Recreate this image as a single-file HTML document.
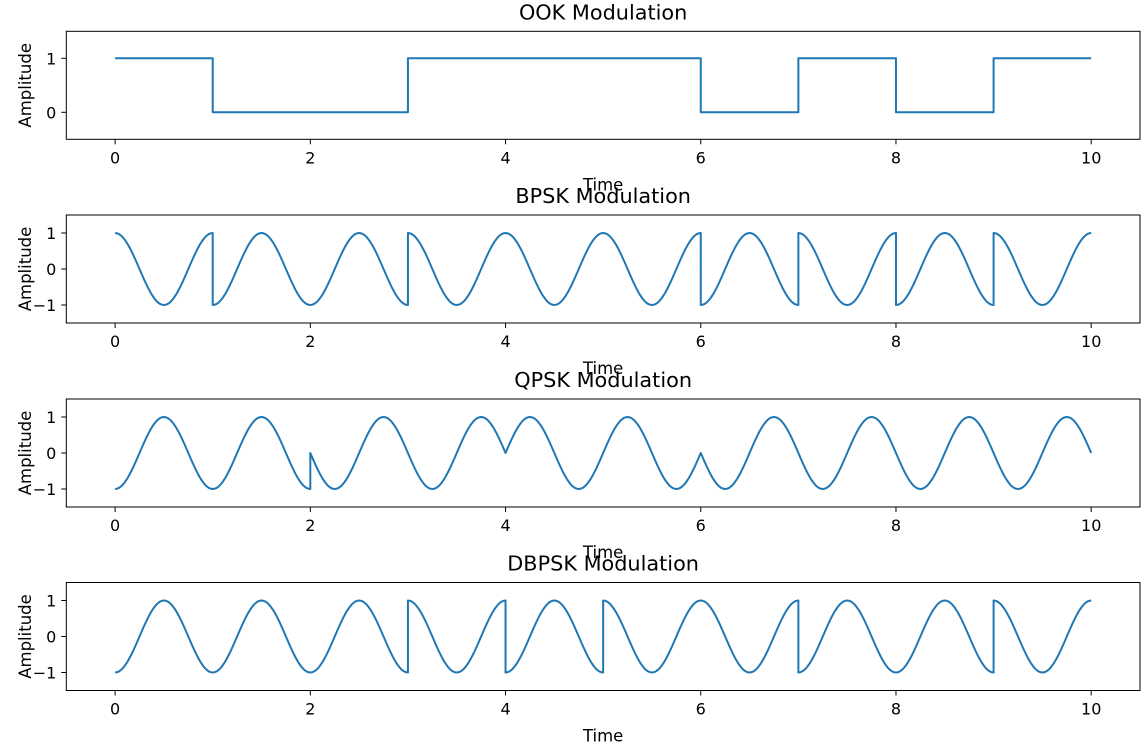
<!DOCTYPE html>
<html><head><meta charset="utf-8"><style>
html,body{margin:0;padding:0;background:#fff}
svg{display:block;font-family:"DejaVu Sans","Liberation Sans",sans-serif}
</style></head><body>
<svg id="fig" width="1145" height="745" viewBox="0 0 1145 745" xmlns="http://www.w3.org/2000/svg"></svg>
<script>
const ookBits = [1,0,0,1,1,1,0,1,0,1];
const bpskSigns = [1,-1,-1,1,1,1,-1,1,-1,1];
const qpskSymbolStarts = [0,2,4,6,8];
const qpskPhasesDeg = [180,90,-90,90,90];
const dbpskSigns = [-1,-1,-1,1,-1,1,1,-1,-1,1];
const xTicks = [0,2,4,6,8,10];
const titles = ["OOK Modulation","BPSK Modulation","QPSK Modulation","DBPSK Modulation"];
const yTicksOok = [0,1];
const yTicksPsk = [-1,0,1];

const NS="http://www.w3.org/2000/svg";
const svg=document.getElementById('fig');
function mk(tag,attrs,parent){const e=document.createElementNS(NS,tag);for(const k in attrs)e.setAttribute(k,attrs[k]);(parent||svg).appendChild(e);return e;}
const L=66.3,R=1140,H=108;
const tops=[31.3,215,399,582.5];
function xs(v){return L+(v+0.5)/11*(R-L);}

function seriesOok(){const p=[];ookBits.forEach((b,i)=>{p.push([i,b]);p.push([i+1,b]);});return p;}
function seriesSigned(signs){const p=[];signs.forEach((s,i)=>{for(let k=0;k<=60;k++){const t=i+k/60;p.push([t,s*Math.cos(2*Math.PI*t)]);}});return p;}
function seriesQpsk(){const p=[];qpskSymbolStarts.forEach((s,i)=>{const e=i+1<qpskSymbolStarts.length?qpskSymbolStarts[i+1]:10;const ph=qpskPhasesDeg[i]*Math.PI/180;const n=(e-s)*60;for(let k=0;k<=n;k++){const t=s+(e-s)*k/n;p.push([t,Math.cos(2*Math.PI*t+ph)]);}});return p;}

const panels=[
 {data:seriesOok(),ymin:-0.5,ymax:1.5,yt:yTicksOok,name:'ook'},
 {data:seriesSigned(bpskSigns),ymin:-1.5,ymax:1.5,yt:yTicksPsk,name:'bpsk'},
 {data:seriesQpsk(),ymin:-1.5,ymax:1.5,yt:yTicksPsk,name:'qpsk'},
 {data:seriesSigned(dbpskSigns),ymin:-1.5,ymax:1.5,yt:yTicksPsk,name:'dbpsk'}
];
panels.forEach((pn,i)=>{
 const T=tops[i],B=T+H;
 const ys=v=>B-(v-pn.ymin)/(pn.ymax-pn.ymin)*H;
 const g=mk('g',{});
 
 
 const d=pn.data.map((q,j)=>(j?'L':'M')+xs(q[0]).toFixed(2)+' '+ys(q[1]).toFixed(2)).join(' ');
 const line=mk('path',{d:d,fill:'none',stroke:'#1f77b4','stroke-width':2,'stroke-linejoin':'round'},g);
 
 
 const fr=mk('rect',{x:L,y:T,width:R-L,height:H,fill:'none',stroke:'#000','stroke-width':1},g);
 
 
 xTicks.forEach(v=>{
  mk('line',{x1:xs(v),x2:xs(v),y1:B,y2:B+5,stroke:'#000','stroke-width':1},g);
  const t=mk('text',{x:xs(v),y:B+24,'text-anchor':'middle','font-size':16},g);t.textContent=v;
  
  
 });
 pn.yt.forEach(v=>{
  mk('line',{x1:L-5,x2:L,y1:ys(v),y2:ys(v),stroke:'#000','stroke-width':1},g);
  const t=mk('text',{x:L-10,y:ys(v)+6,'text-anchor':'end','font-size':16},g);t.textContent=v<0?'\u22121':v;
  
  
 });
 const tt=mk('text',{x:(L+R)/2,y:T-12,'text-anchor':'middle','font-size':20.8},g);tt.textContent=titles[i];
 
 
 const xl=mk('text',{x:(L+R)/2,y:B+51,'text-anchor':'middle','font-size':16.5},g);xl.textContent='Time';
 
 
 const yl=mk('text',{x:0,y:0,'text-anchor':'middle','font-size':16.5,transform:`translate(31,${T+H/2}) rotate(-90)`},g);yl.textContent='Amplitude';
 
 
});
</script>
</body></html>
